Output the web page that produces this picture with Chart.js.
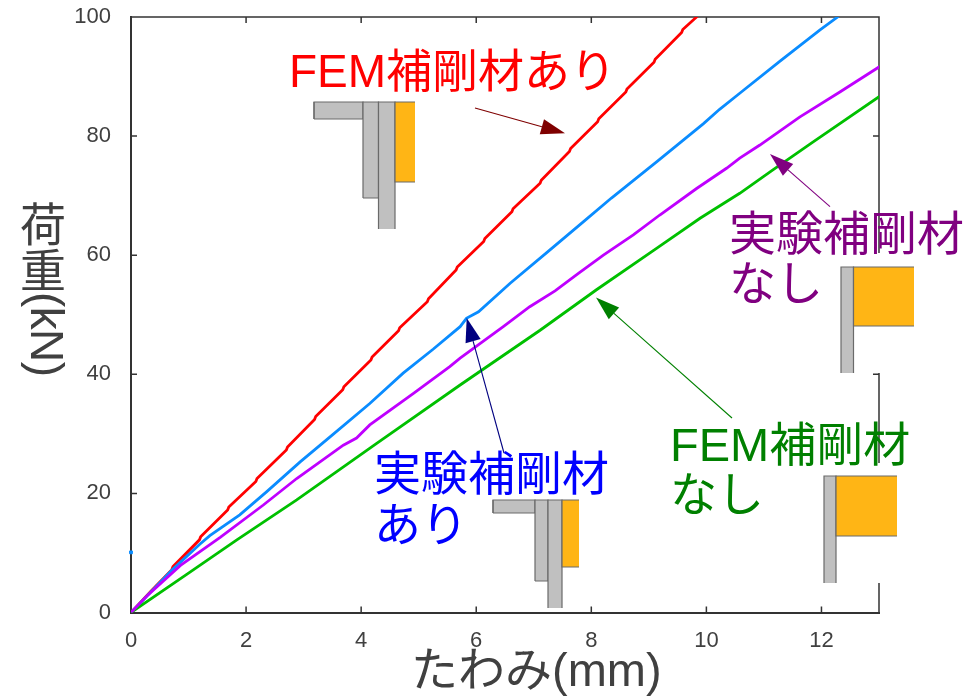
<!DOCTYPE html>
<html><head><meta charset="utf-8">
<script src="https://cdn.jsdelivr.net/npm/chart.js@4"></script>
<style>
html,body{margin:0;padding:0;background:#fff}
#wrap{position:relative;width:972px;height:698px;overflow:hidden}
canvas{position:absolute;left:0;top:0}
#ytitle{position:absolute;left:16px;top:201px;writing-mode:vertical-rl;font:46px/46px "Liberation Sans","Noto Sans CJK JP",sans-serif;color:#404040;white-space:nowrap;letter-spacing:-.6px}
#ytitle span{position:relative;left:8px}
</style></head><body>
<div id="wrap"><canvas id="c" width="972" height="698"></canvas><div id="ytitle">荷重<span>(kN)</span></div></div>
<script>
const xTicks=[0,2,4,6,8,10,12];
const yTicks=[0,20,40,60,80,100];
const redX=[0,0.35,0.71,0.73,1.19,1.21,1.68,1.70,2.17,2.19,2.70,2.72,3.19,3.21,3.68,3.70,4.17,4.19,4.65,4.67,5.15,5.17,5.65,5.67,6.13,6.15,6.62,6.64,7.11,7.13,7.62,7.64,8.11,8.13,8.60,8.62,9.09,9.11,9.57,9.59,9.83];
const redY=[0,3.6,7.2,7.7,12.2,12.7,17.2,17.7,22.0,22.5,27.3,27.8,32.4,32.9,37.4,37.9,42.4,42.9,47.3,47.8,52.2,52.7,57.5,58.0,62.3,62.8,67.3,67.8,72.1,72.6,77.4,77.9,82.4,82.9,87.4,87.9,92.4,92.9,97.4,97.9,100];
const blueX=[0,0.4,0.72,1.2,1.37,1.89,2.36,2.94,3.46,4.15,4.73,5.25,5.72,5.83,6.04,6.59,7.22,7.86,8.35,9.14,9.95,10.23,10.58,11.28,11.97,12.28];
const blueY=[0,4,7.2,11.5,12.9,16.4,20.3,25.3,29.5,35.1,40.2,44.2,48.0,49.4,50.5,55.3,60.4,65.6,69.6,75.7,82.1,84.5,87.2,92.6,97.8,100];
const purpleX=[0,0.3,0.86,1.55,2.30,2.88,3.69,3.92,4.15,4.91,5.54,5.72,6.47,6.93,7.37,7.77,8.21,8.73,9.19,9.83,10.35,10.58,10.93,11.62,12.32,13];
const purpleY=[0,3,7.9,12.6,18.05,22.5,28.1,29.3,31.5,36.8,41.3,42.7,48.0,51.35,54.0,56.9,60,63.4,66.75,71.2,74.6,76.3,78.5,83.2,87.4,91.6];
const greenX=[0,1,1.84,2.88,4.27,5.72,7.11,8.09,9.14,9.89,10.58,11.15,11.85,13];
const greenY=[0,6.6,12.2,18.9,28.4,38.2,47.4,54.2,61.2,66.2,70.4,74.3,79,86.6];
const strayX=[0];
const strayY=[10.1];
const pts=(xs,ys)=>xs.map((x,i)=>({x,y:ys[i]}));

const FONT='"Liberation Sans","Noto Sans CJK JP",sans-serif';
const GRAY='#c0c0c0',EDGE='#6a6a6a',ORANGE='#ffb515';
const shapes=[
 [314,102,49,17,GRAY],[363,102,15.5,96,GRAY],[378.5,102,16.5,127,GRAY],[395,102,20,80,ORANGE],
 [493,500,42,13,GRAY],[535,500,13,81,GRAY],[548,500,14,108,GRAY],[562,500,17,67,ORANGE],
 [841,267,12.5,106,GRAY],[853.5,267,60.5,59,ORANGE],
 [824,476,12,107,GRAY],[836,476,61,60,ORANGE]
];
const arrows=[
 [475,108,565,133.3,'#7f0000'],[830,206.7,770,154,'#800080'],
 [732,418,596,297.5,'#008000'],[504,453,466.7,318,'#000080']
];
const labels=[
 ['FEM補剛材あり',289,87,'#ff0000',46],
 ['実験補剛材',729,250,'#800080',47],['なし',729,300,'#800080',47],
 ['FEM補剛材',670,461,'#008000',47],['なし',670,511,'#008000',47],
 ['実験補剛材',374,490,'#0000ff',47],['あり',374,541,'#0000ff',47],
 ['たわみ(mm)',411,686,'#404040',47]
];

const frame={id:'frame',beforeDatasetsDraw(ch){
  const {ctx,chartArea:a,scales:{x,y}}=ch;
  ctx.save();ctx.strokeStyle='#333';ctx.lineWidth=1.5;ctx.beginPath();
  ctx.moveTo(a.left,a.top);ctx.lineTo(a.right,a.top);ctx.lineTo(a.right,a.bottom);
  xTicks.slice(1).forEach(v=>{const p=x.getPixelForValue(v);
    ctx.moveTo(p,a.bottom);ctx.lineTo(p,a.bottom-6);ctx.moveTo(p,a.top);ctx.lineTo(p,a.top+6);});
  yTicks.slice(1,-1).forEach(v=>{const p=y.getPixelForValue(v);
    ctx.moveTo(a.left,p);ctx.lineTo(a.left+6,p);ctx.moveTo(a.right,p);ctx.lineTo(a.right-6,p);});
  ctx.stroke();
  ctx.fillStyle='#fff';ctx.fillRect(a.right-8,253,12,120);ctx.fillRect(a.right-8,463,12,120);
  ctx.restore();
},afterDatasetsDraw(ch){
  const ctx=ch.ctx;ctx.save();
  shapes.forEach(([x,y,w,h,f])=>{ctx.fillStyle=f;ctx.fillRect(x,y,w,h);
    ctx.strokeStyle=EDGE;ctx.lineWidth=1.2;
    ctx.beginPath();
    if(f===ORANGE){ctx.moveTo(x+w,y);ctx.lineTo(x,y);ctx.lineTo(x,y+h);ctx.lineTo(x+w,y+h);}
    else{ctx.moveTo(x,y+h);ctx.lineTo(x,y);ctx.lineTo(x+w,y);ctx.lineTo(x+w,y+h);}
    ctx.stroke();});
  ctx.strokeStyle=EDGE;ctx.lineWidth=1.2;ctx.beginPath();
  [[314,119,363,119],[314,102,314,119],[363,198,378.5,198],[493,513,535,513],[493,500,493,513],[535,581,548,581]]
    .forEach(([a,b,c,d])=>{ctx.moveTo(a,b);ctx.lineTo(c,d);});
  ctx.stroke();
  arrows.forEach(([x0,y0,x1,y1,c])=>{
    const t=Math.atan2(y1-y0,x1-x0),L=24,W=7.8;
    const bx=x1-L*Math.cos(t),by=y1-L*Math.sin(t);
    ctx.strokeStyle=c;ctx.fillStyle=c;ctx.lineWidth=1.1;
    ctx.beginPath();ctx.moveTo(x0,y0);ctx.lineTo(bx,by);ctx.stroke();
    ctx.beginPath();ctx.moveTo(x1,y1);
    ctx.lineTo(bx-W*Math.sin(t),by+W*Math.cos(t));
    ctx.lineTo(bx+W*Math.sin(t),by-W*Math.cos(t));ctx.closePath();ctx.fill();
  });
  ctx.textAlign='left';ctx.textBaseline='alphabetic';
  labels.forEach(([s,x,y,c,z])=>{ctx.font=z+'px '+FONT;ctx.fillStyle=c;ctx.fillText(s,x,y);});
  ctx.restore();
}};

const ds=(label,xs,ys,c)=>({label,data:pts(xs,ys),borderColor:c,backgroundColor:c,borderWidth:2.8,pointRadius:0,tension:0,borderCapStyle:'square'});
new Chart(document.getElementById('c'),{
 type:'line',
 data:{datasets:[
  ds('実験補剛材なし',purpleX,purpleY,'#bf00ff'),
  ds('FEM補剛材なし',greenX,greenY,'#00c000'),
  ds('実験補剛材あり',blueX,blueY,'#0a8cff'),
  ds('FEM補剛材あり',redX,redY,'#ff0000'),
  {label:'実験補剛材あり(点)',data:pts(strayX,strayY),showLine:false,pointRadius:2,pointStyle:'rect',backgroundColor:'#0a8cff',borderColor:'#0a8cff',clip:false}
 ]},
 plugins:[frame],
 options:{
  responsive:false,animation:false,events:[],
  layout:{padding:{left:0,top:17,right:93,bottom:0}},
  plugins:{legend:{display:false},tooltip:{enabled:false},title:{display:false}},
  scales:{
   x:{type:'linear',min:0,max:13,
      afterBuildTicks:s=>{s.ticks=xTicks.map(v=>({value:v}));},
      afterFit:s=>{s.height=85.5;s.paddingLeft=0;s.paddingRight=0;},
      grid:{drawOnChartArea:false,drawTicks:false},
      border:{color:'#333',width:2},
      ticks:{color:'#404040',padding:15,maxRotation:0,font:{family:FONT,size:22}}},
   y:{type:'linear',min:0,max:100,
      afterBuildTicks:s=>{s.ticks=yTicks.map(v=>({value:v}));},
      afterFit:s=>{s.width=131;s.paddingTop=0;s.paddingBottom=0;},
      grid:{drawOnChartArea:false,drawTicks:false},
      border:{color:'#333',width:2},
      ticks:{color:'#404040',padding:20,font:{family:FONT,size:22}}}
  }
 }
});
</script></body></html>
